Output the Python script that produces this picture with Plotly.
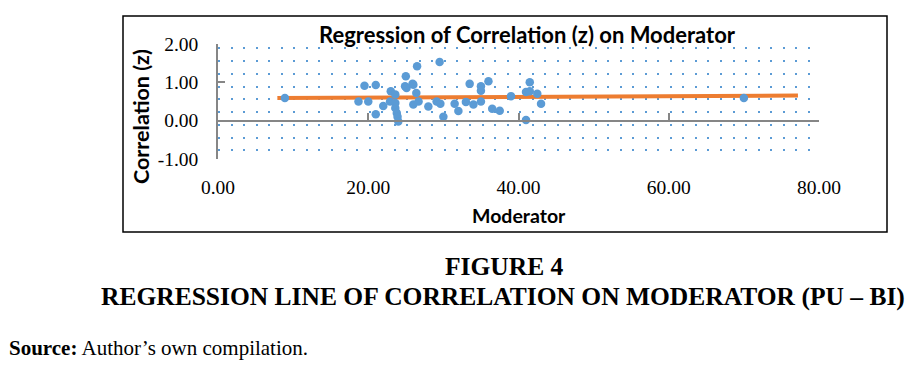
import plotly.graph_objects as go

# Data
moderator = [8.9, 18.7, 19.5, 20.0, 21.0, 21.0, 22.0, 22.9, 23.0, 23.6, 23.6, 23.6,
             23.8, 23.9, 24.0, 25.0, 24.9, 25.1, 25.9, 26.0, 26.4, 26.5, 26.0, 26.7,
             28.0, 29.5, 29.1, 29.6, 30.0, 31.5, 32.0, 33.0, 33.5, 34.0, 35.0, 35.0,
             35.0, 36.0, 36.5, 37.5, 39.0, 41.0, 41.5, 41.5, 42.5, 43.0, 41.0, 70.0]
correlation = [0.59, 0.50, 0.91, 0.50, 0.93, 0.17, 0.38, 0.50, 0.77, 0.68, 0.46, 0.33,
               0.20, 0.10, -0.02, 1.16, 0.90, 0.85, 0.96, 0.94, 0.72, 1.42, 0.42, 0.50,
               0.37, 1.53, 0.50, 0.44, 0.10, 0.44, 0.25, 0.49, 0.96, 0.42, 0.90, 0.78,
               0.50, 1.03, 0.31, 0.26, 0.64, 0.75, 1.00, 0.77, 0.70, 0.44, 0.02, 0.59]
trend_x = [7.9, 77.2]
trend_y = [0.59, 0.655]

x_ticks = [0, 20, 40, 60, 80]
y_ticks = [-1, 0, 1, 2]

W, H = 915, 366


def px(x):
    return x / W


def py(y):
    return 1 - y / H


x0, x1 = px(218), px(819)
y0, y1 = py(159), py(44)
zero_pos = y0 + (y1 - y0) / 3

BLUE = "#5B9BD5"
ORANGE = "#ED7D31"
GREY = "#868686"

fig = go.Figure()
fig.add_trace(go.Scatter(x=trend_x, y=trend_y, mode="lines",
                         line=dict(color=ORANGE, width=4), hoverinfo="skip"))
fig.add_trace(go.Scatter(x=moderator, y=correlation, mode="markers",
                         marker=dict(color=BLUE, size=8.5, line=dict(width=0))))
fig.add_trace(go.Scatter(x=[None], y=[None], xaxis="x2", showlegend=False))

serif = "Liberation Serif"
sans = "Lato"

fig.update_layout(
    width=W, height=H,
    margin=dict(l=0, r=0, t=0, b=0, autoexpand=False),
    paper_bgcolor="white", plot_bgcolor="white",
    showlegend=False,
    xaxis=dict(domain=[x0, x1], range=[0, 80], tickvals=x_ticks,
               ticktext=[f"{v:.2f}" for v in x_ticks],
               showgrid=False, zeroline=False, showline=False, ticks="",
               tickfont=dict(family=serif, size=19.5, color="black"),
               ticklabelstandoff=14, automargin=False),
    xaxis2=dict(domain=[x0, x1], range=[0, 80], overlaying="x", anchor="free",
                position=zero_pos, tickvals=x_ticks, showticklabels=False,
                ticks="inside", ticklen=7, tickcolor=GREY, tickwidth=1.5,
                showline=True, linecolor=GREY, linewidth=1.5,
                showgrid=False, zeroline=False, automargin=False),
    yaxis=dict(domain=[y0, y1], range=[-1, 2], tickvals=y_ticks,
               ticktext=[f"{v:.2f}" for v in y_ticks],
               showline=True, linecolor=GREY, linewidth=1.5,
               ticks="inside", ticklen=7, tickcolor=GREY, tickwidth=1.5,
               showgrid=False, zeroline=False, automargin=False,
               tickfont=dict(family=serif, size=19.5, color="black"),
               ticklabelstandoff=14,
               minor=dict(tick0=1.89, dtick=1 / 3, showgrid=True,
                          gridcolor=BLUE, gridwidth=2,
                          griddash="2px,10.55px")),
)

# chart border
fig.add_shape(type="rect", xref="paper", yref="paper",
              x0=px(123), x1=px(887), y0=py(232), y1=py(16),
              line=dict(color="black", width=1.5), layer="below")

ann = [
    dict(text="<b>Regression of Correlation (z) on Moderator</b>", x=px(527), y=py(34),
         font=dict(family=sans, size=22, color="black")),
    dict(text="<b>Correlation (z)</b>", x=px(141), y=py(117), textangle=-90,
         font=dict(family=sans, size=21.5, color="black")),
    dict(text="<b>Moderator</b>", x=px(519), y=py(215),
         font=dict(family=sans, size=19.5, color="black")),
    dict(text="<b>FIGURE 4</b>", x=px(505), y=py(266),
         font=dict(family=serif, size=25.5, color="black")),
    dict(text="<b>REGRESSION LINE OF CORRELATION ON MODERATOR (PU – BI)</b>", x=px(503),
         y=py(296), font=dict(family=serif, size=25.5, color="black")),
    dict(text="<b>Source:</b> Author’s own compilation.", x=px(7), y=py(348),
         xanchor="left", font=dict(family=serif, size=21, color="black")),
]
for a in ann:
    a.setdefault("xanchor", "center")
    fig.add_annotation(xref="paper", yref="paper", showarrow=False, yanchor="middle", **a)

fig.write_html(
    "out.html",
    config={"displayModeBar": False},
    post_script="document.body.style.margin='0';"
                "document.documentElement.style.overflow='hidden';",
)
